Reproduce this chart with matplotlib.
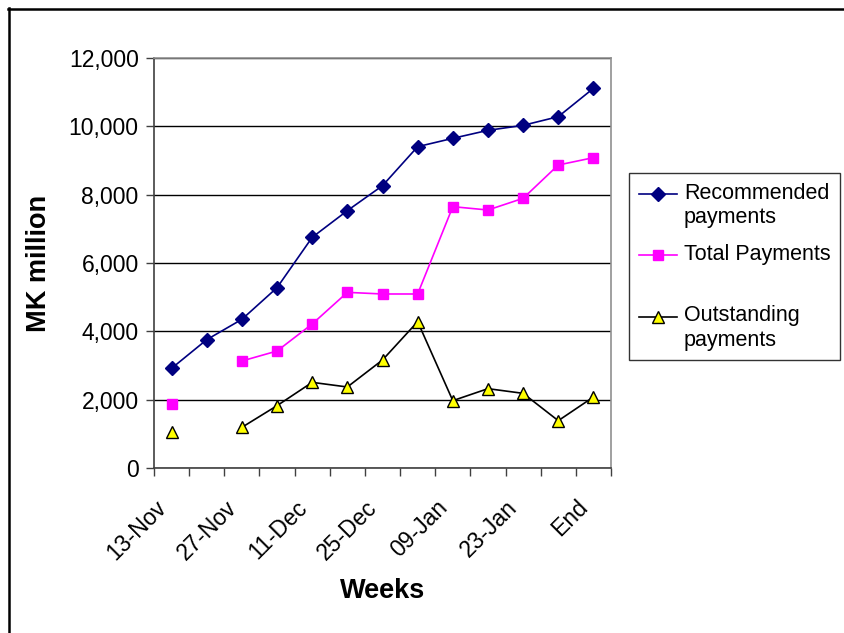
import matplotlib
matplotlib.use("Agg")
import matplotlib.pyplot as plt
import matplotlib.transforms as mtransforms
import numpy as np
from matplotlib.lines import Line2D
from matplotlib.ticker import FuncFormatter
from matplotlib.legend_handler import HandlerLine2D

plt.rcParams['font.family'] = ['Liberation Sans', 'DejaVu Sans']

weeks = ["13-Nov", "20-Nov", "27-Nov", "04-Dec", "11-Dec", "18-Dec", "25-Dec",
         "01-Jan", "09-Jan", "16-Jan", "23-Jan", "30-Jan", "End"]
recommended = [2917, 3756, 4351, 5278, 6751, 7532, 8263, 9405, 9649, 9883, 10029, 10283, 11112]
total_payments = [1863, np.nan, 3132, 3424, 4215, 5141, 5093, 5093, 7649, 7551, 7893, 8868, 9083]
outstanding = [1054, np.nan, 1190, 1824, 2507, 2371, 3161, 4283, 1971, 2322, 2185, 1385, 2078]

W, H = 844, 633
fig = plt.figure(figsize=(W / 100, H / 100), dpi=100)
ax = fig.add_axes([154 / W, 1 - 468 / H, (611 - 154) / W, (468 - 58) / H])

x = np.arange(len(weeks))
ax.plot(x, recommended, color='#000080', lw=1.2, marker='D', ms=7,
        mfc='#000080', mec='#000080', label='Recommended\npayments', zorder=4)
ax.plot(x, total_payments, color='#FF00FF', lw=1.2, marker='s', ms=7,
        mfc='#FF00FF', mec='#FF00FF', label='Total Payments\n ', zorder=4)
ax.plot(x, outstanding, color='black', lw=1.2, marker='^', ms=8.5,
        mfc='#FFFF00', mec='black', mew=1.0, label='Outstanding\npayments', zorder=4)

ax.set_xlim(-0.5, len(weeks) - 0.5)
ax.set_ylim(0, 12000)
ax.set_yticks(np.arange(0, 12001, 2000))
ax.yaxis.set_major_formatter(FuncFormatter(lambda v, p: f"{int(v):,}"))
ax.yaxis.grid(True, color='black', lw=1.0)
ax.set_axisbelow(True)

# ticks between categories, labels every other category
ax.set_xticks(np.arange(-0.5, len(weeks), 1.0))
ax.set_xticklabels([])
ax.set_xticks(x[::2], minor=True)
ax.set_xticklabels(weeks[::2], minor=True, rotation=45, ha='right', va='center',
                   rotation_mode='anchor', fontsize=16.5)
ax.tick_params(axis='x', which='minor', length=0, pad=0)
off = mtransforms.ScaledTranslation(-9 / 100, -36 / 100, fig.dpi_scale_trans)
for lab in ax.get_xticklabels(minor=True):
    lab.set_transform(lab.get_transform() + off)
ax.tick_params(axis='x', which='major', length=6, width=1, color='#404040', direction='out')
ax.tick_params(axis='y', length=6, width=1, color='#404040', labelsize=16.5, pad=5)

for s in ['left', 'bottom']:
    ax.spines[s].set_color('#404040')
    ax.spines[s].set_linewidth(1.2)
for s in ['right', 'top']:
    ax.spines[s].set_color('#909090')
    ax.spines[s].set_linewidth(1.2)

ax.set_ylabel('MK million', fontsize=19.5, fontweight='bold', labelpad=12)
ax.xaxis.set_label_coords((383 - 154) / (611 - 154), (468 - 591) / (468 - 58))
ax.set_xlabel('Weeks', fontsize=19.5, fontweight='bold', va='center')


class RaisedHandler(HandlerLine2D):
    def create_artists(self, legend, orig_handle, xdescent, ydescent,
                       width, height, fontsize, trans):
        arts = super().create_artists(legend, orig_handle, xdescent, ydescent,
                                      width, height, fontsize, trans)
        for a in arts:
            yd = np.asarray(a.get_ydata(), dtype=float)
            a.set_ydata(yd + 0.55 * fontsize)
        return arts


handler = RaisedHandler()
handles, labels = ax.get_legend_handles_labels()
leg = fig.legend(handles, labels, loc='upper left', bbox_to_anchor=(629 / W, 1 - 173 / H),
                 fontsize=15.5, frameon=True, fancybox=False, edgecolor='black',
                 handlelength=1.8, handletextpad=0.3, borderpad=0.45,
                 labelspacing=0.75, borderaxespad=0,
                 handler_map={h: handler for h in handles})
leg.get_frame().set_linewidth(1.0)

# outer chart border (top and left visible)
fig.add_artist(Line2D([8 / W, 1.0], [1 - 8.5 / H, 1 - 8.5 / H], color='black', lw=1.8,
                      transform=fig.transFigure))
fig.add_artist(Line2D([8.5 / W, 8.5 / W], [0, 1 - 8 / H], color='black', lw=1.8,
                      transform=fig.transFigure))

fig.savefig('out.png', dpi=100)
